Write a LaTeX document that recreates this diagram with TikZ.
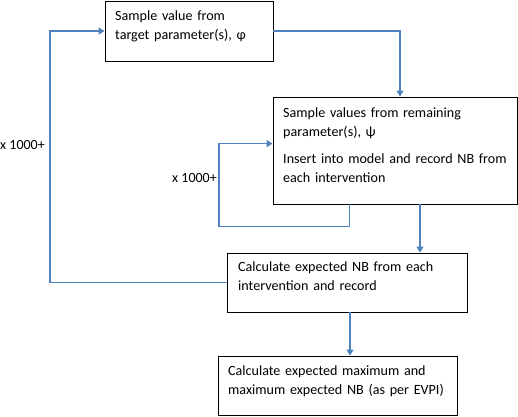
\documentclass[tikz,border=0pt]{standalone}
\usepackage{fontspec}
\setmainfont{Carlito}
\usetikzlibrary{arrows.meta,calc}
\definecolor{flowblue}{RGB}{79,129,189}
\begin{document}
\begin{tikzpicture}[x=1pt,y=-1pt,
  box/.style={draw=black,line width=0.9pt,minimum width=#1,inner sep=0pt,anchor=center},
  txt/.style={anchor=base west,inner sep=0pt,text width=#1,align=left,
    font=\fontsize{14.1}{19}\selectfont},
  lbl/.style={inner sep=0pt,font=\fontsize{14}{19}\selectfont},
  arr/.style={draw=flowblue,line width=1.4pt,-{Triangle[width=7pt,length=6pt]}},
  lin/.style={draw=flowblue,line width=1.4pt}]
\useasboundingbox (0,0) rectangle (518,416);
% boxes
\node[box=168pt,minimum height=60pt] (A) at (189,31) {};
\node[box=244pt,minimum height=107pt] (B) at (395,150.5) {};
\node[box=240pt,minimum height=59pt] (C) at (347,282.5) {};
\node[box=239pt,minimum height=59pt] (D) at (337.5,385.5) {};
% texts
\node[txt=160pt] (tA) at (115,20.5) {Sample value from\\target parameter(s), φ};
\node[txt=232pt] (tB) at (283,117) {Sample values from remaining\\parameter(s), ψ\\[8pt]Insert into model and record NB from\\each intervention};
\node[txt=228pt] (tC) at (238,271) {Calculate expected NB from each\\intervention and record};
\node[txt=228pt] (tD) at (228,375) {Calculate expected maximum and\\maximum expected NB (as per EVPI)};
% labels
\node[lbl,anchor=base west] (l1) at (0,149) {x 1000+};
\node[lbl,anchor=base east] (l2) at (217,182) {x 1000+};
% connectors
\coordinate (ox) at (50,0);
\coordinate (ix) at (219,0);
\draw[arr] (C.west) -- (C.west -| ox) -- (A.west -| ox) -- (A.west);
\draw[arr] (A.east) -| ([xshift=5pt]B.north);
\coordinate (bs) at ($(B.south west)+(77,0)$);
\coordinate (bi) at ($(B.north west)+(0,47)$);
\draw[arr] (bs) -- ++(0,22) -| (bi -| ix) -- (bi);
\draw[arr] ([xshift=25pt]B.south) -- ([xshift=25pt]B.south |- C.north);
\draw[arr] ([xshift=3pt]C.south) -- ([xshift=3pt]C.south |- D.north);
\end{tikzpicture}
\end{document}
